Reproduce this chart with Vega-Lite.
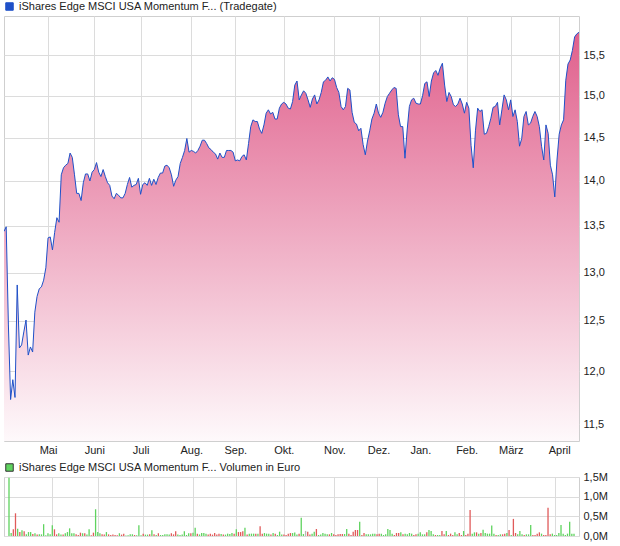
{
 "$schema": "https://vega.github.io/schema/vega-lite/v6.json",
 "padding": {"left": 3, "top": 0, "right": 0, "bottom": 0},
 "bounds": "flush",
 "spacing": 36,
 "background": "white",
 "config": {
  "view": {"stroke": "#cfcfcf", "strokeWidth": 1},
  "font": "Liberation Sans",
  "axis": {"gridColor": "#dcdcdc", "gridWidth": 1, "domain": false, "ticks": false, "labelFont": "Liberation Sans", "labelColor": "#222222", "labelFontSize": 11, "title": null},
  "legend": {"labelFont": "Liberation Sans", "labelFontSize": 11, "labelColor": "#222222", "labelLimit": 0, "padding": 0, "offset": 0}
 },
 "datasets": {"d": [
{"i":0,"p":13.44,"v":1480000,"d":"up"},{"i":1,"p":13.49,"v":75000,"d":"up"},{"i":2,"p":12.46,"v":170000,"d":"down"},{"i":3,"p":11.73,"v":577000,"d":"down"},{"i":4,"p":11.92,"v":187000,"d":"up"},{"i":5,"p":11.75,"v":100000,"d":"down"},{"i":6,"p":12.87,"v":145000,"d":"up"},{"i":7,"p":12.23,"v":120000,"d":"down"},{"i":8,"p":12.26,"v":42000,"d":"up"},{"i":9,"p":12.39,"v":100000,"d":"up"},
{"i":10,"p":12.51,"v":100000,"d":"up"},{"i":11,"p":12.16,"v":50000,"d":"down"},{"i":12,"p":12.24,"v":70000,"d":"up"},{"i":13,"p":12.19,"v":35000,"d":"down"},{"i":14,"p":12.59,"v":42000,"d":"up"},{"i":15,"p":12.75,"v":42000,"d":"up"},{"i":16,"p":12.83,"v":300000,"d":"up"},{"i":17,"p":12.85,"v":17000,"d":"up"},{"i":18,"p":12.92,"v":70000,"d":"up"},{"i":19,"p":13.05,"v":42000,"d":"up"},
{"i":20,"p":13.37,"v":272000,"d":"up"},{"i":21,"p":13.38,"v":170000,"d":"down"},{"i":22,"p":13.24,"v":42000,"d":"down"},{"i":23,"p":13.43,"v":70000,"d":"up"},{"i":24,"p":13.59,"v":35000,"d":"up"},{"i":25,"p":13.54,"v":35000,"d":"down"},{"i":26,"p":14.07,"v":70000,"d":"up"},{"i":27,"p":14.15,"v":100000,"d":"up"},{"i":28,"p":14.18,"v":195000,"d":"up"},{"i":29,"p":14.20,"v":70000,"d":"up"},
{"i":30,"p":14.32,"v":70000,"d":"up"},{"i":31,"p":14.27,"v":42000,"d":"down"},{"i":32,"p":14.07,"v":25000,"d":"down"},{"i":33,"p":13.86,"v":85000,"d":"down"},{"i":34,"p":13.86,"v":70000,"d":"up"},{"i":35,"p":13.78,"v":70000,"d":"down"},{"i":36,"p":13.98,"v":35000,"d":"up"},{"i":37,"p":14.08,"v":170000,"d":"up"},{"i":38,"p":14.08,"v":17000,"d":"down"},{"i":39,"p":14.00,"v":85000,"d":"down"},
{"i":40,"p":14.10,"v":680000,"d":"up"},{"i":41,"p":14.13,"v":100000,"d":"up"},{"i":42,"p":14.21,"v":70000,"d":"up"},{"i":43,"p":14.10,"v":42000,"d":"down"},{"i":44,"p":14.05,"v":35000,"d":"down"},{"i":45,"p":14.13,"v":100000,"d":"up"},{"i":46,"p":14.05,"v":42000,"d":"down"},{"i":47,"p":13.98,"v":25000,"d":"down"},{"i":48,"p":13.95,"v":35000,"d":"down"},{"i":49,"p":13.83,"v":25000,"d":"down"},
{"i":50,"p":13.80,"v":17000,"d":"down"},{"i":51,"p":13.86,"v":70000,"d":"up"},{"i":52,"p":13.84,"v":35000,"d":"down"},{"i":53,"p":13.81,"v":60000,"d":"down"},{"i":54,"p":13.81,"v":10000,"d":"up"},{"i":55,"p":13.86,"v":17000,"d":"up"},{"i":56,"p":13.96,"v":42000,"d":"up"},{"i":57,"p":14.04,"v":42000,"d":"up"},{"i":58,"p":13.93,"v":25000,"d":"down"},{"i":59,"p":13.95,"v":17000,"d":"up"},
{"i":60,"p":13.96,"v":272000,"d":"up"},{"i":61,"p":14.03,"v":17000,"d":"up"},{"i":62,"p":13.85,"v":60000,"d":"down"},{"i":63,"p":13.96,"v":35000,"d":"up"},{"i":64,"p":13.98,"v":35000,"d":"up"},{"i":65,"p":13.95,"v":42000,"d":"down"},{"i":66,"p":14.03,"v":145000,"d":"up"},{"i":67,"p":13.95,"v":42000,"d":"down"},{"i":68,"p":14.02,"v":25000,"d":"up"},{"i":69,"p":13.96,"v":70000,"d":"down"},
{"i":70,"p":14.04,"v":25000,"d":"up"},{"i":71,"p":14.09,"v":25000,"d":"up"},{"i":72,"p":14.09,"v":42000,"d":"up"},{"i":73,"p":14.17,"v":42000,"d":"up"},{"i":74,"p":14.18,"v":35000,"d":"up"},{"i":75,"p":14.15,"v":70000,"d":"down"},{"i":76,"p":14.07,"v":42000,"d":"down"},{"i":77,"p":13.94,"v":120000,"d":"down"},{"i":78,"p":14.01,"v":35000,"d":"up"},{"i":79,"p":14.05,"v":25000,"d":"up"},
{"i":80,"p":14.20,"v":35000,"d":"up"},{"i":81,"p":14.27,"v":120000,"d":"up"},{"i":82,"p":14.35,"v":25000,"d":"up"},{"i":83,"p":14.49,"v":70000,"d":"up"},{"i":84,"p":14.33,"v":70000,"d":"down"},{"i":85,"p":14.35,"v":85000,"d":"up"},{"i":86,"p":14.34,"v":210000,"d":"up"},{"i":87,"p":14.32,"v":60000,"d":"down"},{"i":88,"p":14.35,"v":40000,"d":"up"},{"i":89,"p":14.40,"v":75000,"d":"up"},
{"i":90,"p":14.47,"v":75000,"d":"up"},{"i":91,"p":14.47,"v":60000,"d":"up"},{"i":92,"p":14.43,"v":40000,"d":"down"},{"i":93,"p":14.38,"v":60000,"d":"down"},{"i":94,"p":14.36,"v":35000,"d":"down"},{"i":95,"p":14.33,"v":75000,"d":"down"},{"i":96,"p":14.31,"v":40000,"d":"down"},{"i":97,"p":14.25,"v":60000,"d":"down"},{"i":98,"p":14.32,"v":50000,"d":"up"},{"i":99,"p":14.27,"v":40000,"d":"down"},
{"i":100,"p":14.27,"v":35000,"d":"up"},{"i":101,"p":14.35,"v":60000,"d":"up"},{"i":102,"p":14.35,"v":50000,"d":"up"},{"i":103,"p":14.35,"v":75000,"d":"up"},{"i":104,"p":14.33,"v":60000,"d":"down"},{"i":105,"p":14.23,"v":170000,"d":"up"},{"i":106,"p":14.24,"v":100000,"d":"down"},{"i":107,"p":14.23,"v":100000,"d":"down"},{"i":108,"p":14.28,"v":120000,"d":"down"},{"i":109,"p":14.30,"v":210000,"d":"up"},
{"i":110,"p":14.24,"v":40000,"d":"down"},{"i":111,"p":14.43,"v":60000,"d":"up"},{"i":112,"p":14.63,"v":60000,"d":"up"},{"i":113,"p":14.71,"v":60000,"d":"up"},{"i":114,"p":14.69,"v":60000,"d":"down"},{"i":115,"p":14.69,"v":60000,"d":"up"},{"i":116,"p":14.60,"v":245000,"d":"down"},{"i":117,"p":14.55,"v":60000,"d":"down"},{"i":118,"p":14.65,"v":75000,"d":"up"},{"i":119,"p":14.79,"v":60000,"d":"up"},
{"i":120,"p":14.83,"v":60000,"d":"up"},{"i":121,"p":14.78,"v":40000,"d":"down"},{"i":122,"p":14.80,"v":75000,"d":"up"},{"i":123,"p":14.72,"v":60000,"d":"down"},{"i":124,"p":14.72,"v":25000,"d":"up"},{"i":125,"p":14.85,"v":110000,"d":"up"},{"i":126,"p":14.90,"v":40000,"d":"up"},{"i":127,"p":14.92,"v":40000,"d":"down"},{"i":128,"p":14.90,"v":25000,"d":"down"},{"i":129,"p":14.85,"v":60000,"d":"down"},
{"i":130,"p":14.84,"v":75000,"d":"down"},{"i":131,"p":14.93,"v":75000,"d":"up"},{"i":132,"p":15.13,"v":90000,"d":"up"},{"i":133,"p":15.18,"v":40000,"d":"up"},{"i":134,"p":14.95,"v":60000,"d":"down"},{"i":135,"p":15.01,"v":466000,"d":"up"},{"i":136,"p":15.06,"v":50000,"d":"up"},{"i":137,"p":15.03,"v":130000,"d":"flat"},{"i":138,"p":14.95,"v":110000,"d":"down"},{"i":139,"p":14.86,"v":40000,"d":"down"},
{"i":140,"p":14.96,"v":60000,"d":"up"},{"i":141,"p":15.01,"v":110000,"d":"up"},{"i":142,"p":14.90,"v":178000,"d":"down"},{"i":143,"p":14.95,"v":25000,"d":"up"},{"i":144,"p":15.04,"v":40000,"d":"up"},{"i":145,"p":15.17,"v":76000,"d":"up"},{"i":146,"p":15.19,"v":60000,"d":"up"},{"i":147,"p":15.23,"v":42000,"d":"up"},{"i":148,"p":15.18,"v":42000,"d":"down"},{"i":149,"p":15.22,"v":76000,"d":"up"},
{"i":150,"p":15.20,"v":42000,"d":"down"},{"i":151,"p":15.10,"v":25000,"d":"down"},{"i":152,"p":15.04,"v":42000,"d":"down"},{"i":153,"p":14.87,"v":50000,"d":"down"},{"i":154,"p":14.83,"v":50000,"d":"down"},{"i":155,"p":14.87,"v":50000,"d":"up"},{"i":156,"p":15.09,"v":178000,"d":"up"},{"i":157,"p":15.07,"v":60000,"d":"down"},{"i":158,"p":14.80,"v":25000,"d":"down"},{"i":159,"p":14.68,"v":110000,"d":"down"},
{"i":160,"p":14.66,"v":152000,"d":"down"},{"i":161,"p":14.58,"v":152000,"d":"down"},{"i":162,"p":14.61,"v":365000,"d":"up"},{"i":163,"p":14.42,"v":25000,"d":"down"},{"i":164,"p":14.30,"v":76000,"d":"down"},{"i":165,"p":14.46,"v":42000,"d":"up"},{"i":166,"p":14.58,"v":42000,"d":"up"},{"i":167,"p":14.72,"v":42000,"d":"up"},{"i":168,"p":14.79,"v":60000,"d":"up"},{"i":169,"p":14.90,"v":60000,"d":"up"},
{"i":170,"p":14.79,"v":42000,"d":"down"},{"i":171,"p":14.74,"v":60000,"d":"down"},{"i":172,"p":14.80,"v":60000,"d":"up"},{"i":173,"p":14.91,"v":25000,"d":"up"},{"i":174,"p":14.99,"v":42000,"d":"up"},{"i":175,"p":15.03,"v":178000,"d":"up"},{"i":176,"p":15.07,"v":152000,"d":"up"},{"i":177,"p":15.10,"v":60000,"d":"up"},{"i":178,"p":15.09,"v":25000,"d":"down"},{"i":179,"p":14.77,"v":76000,"d":"down"},
{"i":180,"p":14.63,"v":76000,"d":"down"},{"i":181,"p":14.63,"v":93000,"d":"up"},{"i":182,"p":14.26,"v":42000,"d":"down"},{"i":183,"p":14.59,"v":60000,"d":"up"},{"i":184,"p":14.87,"v":42000,"d":"up"},{"i":185,"p":14.95,"v":76000,"d":"up"},{"i":186,"p":14.97,"v":60000,"d":"up"},{"i":187,"p":14.91,"v":25000,"d":"down"},{"i":188,"p":14.90,"v":42000,"d":"down"},{"i":189,"p":14.90,"v":60000,"d":"up"},
{"i":190,"p":15.00,"v":93000,"d":"up"},{"i":191,"p":15.15,"v":42000,"d":"up"},{"i":192,"p":15.17,"v":42000,"d":"up"},{"i":193,"p":14.99,"v":93000,"d":"down"},{"i":194,"p":15.18,"v":152000,"d":"up"},{"i":195,"p":15.28,"v":127000,"d":"up"},{"i":196,"p":15.31,"v":42000,"d":"up"},{"i":197,"p":15.25,"v":25000,"d":"down"},{"i":198,"p":15.34,"v":25000,"d":"up"},{"i":199,"p":15.40,"v":25000,"d":"up"},
{"i":200,"p":15.13,"v":127000,"d":"down"},{"i":201,"p":14.93,"v":42000,"d":"down"},{"i":202,"p":15.04,"v":127000,"d":"up"},{"i":203,"p":14.99,"v":25000,"d":"down"},{"i":204,"p":14.89,"v":60000,"d":"down"},{"i":205,"p":14.87,"v":25000,"d":"down"},{"i":206,"p":14.90,"v":93000,"d":"up"},{"i":207,"p":14.97,"v":42000,"d":"up"},{"i":208,"p":14.90,"v":76000,"d":"down"},{"i":209,"p":14.79,"v":25000,"d":"down"},
{"i":210,"p":14.92,"v":127000,"d":"up"},{"i":211,"p":14.85,"v":25000,"d":"down"},{"i":212,"p":14.41,"v":60000,"d":"down"},{"i":213,"p":14.15,"v":660000,"d":"down"},{"i":214,"p":14.58,"v":60000,"d":"up"},{"i":215,"p":14.85,"v":93000,"d":"up"},{"i":216,"p":14.81,"v":93000,"d":"down"},{"i":217,"p":14.83,"v":60000,"d":"up"},{"i":218,"p":14.54,"v":76000,"d":"down"},{"i":219,"p":14.55,"v":160000,"d":"up"},
{"i":220,"p":14.63,"v":76000,"d":"up"},{"i":221,"p":14.73,"v":60000,"d":"up"},{"i":222,"p":14.86,"v":60000,"d":"up"},{"i":223,"p":14.87,"v":265000,"d":"up"},{"i":224,"p":14.92,"v":60000,"d":"up"},{"i":225,"p":14.65,"v":25000,"d":"down"},{"i":226,"p":14.83,"v":25000,"d":"up"},{"i":227,"p":15.01,"v":42000,"d":"up"},{"i":228,"p":14.95,"v":42000,"d":"down"},{"i":229,"p":14.83,"v":60000,"d":"down"},
{"i":230,"p":14.95,"v":76000,"d":"up"},{"i":231,"p":14.75,"v":152000,"d":"down"},{"i":232,"p":14.83,"v":25000,"d":"up"},{"i":233,"p":14.69,"v":435000,"d":"down"},{"i":234,"p":14.40,"v":76000,"d":"down"},{"i":235,"p":14.49,"v":42000,"d":"up"},{"i":236,"p":14.75,"v":127000,"d":"up"},{"i":237,"p":14.81,"v":42000,"d":"up"},{"i":238,"p":14.65,"v":25000,"d":"down"},{"i":239,"p":14.67,"v":42000,"d":"up"},
{"i":240,"p":14.75,"v":42000,"d":"up"},{"i":241,"p":14.81,"v":280000,"d":"up"},{"i":242,"p":14.75,"v":25000,"d":"down"},{"i":243,"p":14.63,"v":25000,"d":"down"},{"i":244,"p":14.40,"v":60000,"d":"down"},{"i":245,"p":14.24,"v":93000,"d":"down"},{"i":246,"p":14.65,"v":60000,"d":"up"},{"i":247,"p":14.55,"v":25000,"d":"down"},{"i":248,"p":14.18,"v":25000,"d":"down"},{"i":249,"p":14.07,"v":720000,"d":"down"},
{"i":250,"p":13.82,"v":42000,"d":"down"},{"i":251,"p":14.24,"v":60000,"d":"up"},{"i":252,"p":14.54,"v":25000,"d":"up"},{"i":253,"p":14.65,"v":25000,"d":"up"},{"i":254,"p":14.71,"v":76000,"d":"up"},{"i":255,"p":15.19,"v":280000,"d":"up"},{"i":256,"p":15.39,"v":60000,"d":"up"},{"i":257,"p":15.44,"v":25000,"d":"up"},{"i":258,"p":15.56,"v":60000,"d":"up"},{"i":259,"p":15.73,"v":365000,"d":"up"},
{"i":260,"p":15.77,"v":60000,"d":"up"},{"i":261,"p":15.79,"v":60000,"d":"up"}
 ]},
 "vconcat": [
  {
   "width": 575,
   "height": 425,
   "data": {"name": "d"},
   "encoding": {
    "x": {"field": "i", "type": "quantitative", "scale": {"domain": [0, 261], "nice": false, "zero": false},
      "axis": {"orient": "bottom", "values": [20, 41, 62, 85, 105, 127, 150, 170, 189, 210, 230, 252], "labelExpr": "['Mai','Juni','Juli','Aug.','Sep.','Okt.','Nov.','Dez.','Jan.','Feb.','März','April'][indexof([20,41,62,85,105,127,150,170,189,210,230,252], datum.value)]", "grid": true, "labelPadding": 3, "labelFontSize": 11, "labelOverlap": false, "labelFlush": false}},
    "y": {"field": "p", "type": "quantitative", "scale": {"type": "log", "domain": [11.343, 16.0], "nice": false, "zero": false},
      "axis": {"orient": "right", "values": [11.5, 12, 12.5, 13, 13.5, 14, 14.5, 15, 15.5], "labelExpr": "replace(format(datum.value, '.1f'), '.', ',')", "grid": true, "labelPadding": 4}}
   },
   "layer": [
    {"mark": {"type": "area", "clip": true, "color": {"gradient": "linear", "x1": 0, "y1": 0, "x2": 0, "y2": 1, "stops": [{"offset": 0, "color": "#e0608c"}, {"offset": 1, "color": "#fef9fb"}]}},
     "encoding": {"y2": {"datum": 11.343}}},
    {"mark": {"type": "line", "clip": true, "strokeWidth": 1},
     "encoding": {"color": {"datum": "iShares Edge MSCI USA Momentum F... (Tradegate)", "type": "nominal", "scale": {"range": ["#1f50c8"]},
       "legend": {"orient": "none", "legendX": 0, "legendY": -15, "title": null, "symbolType": "square", "symbolSize": 56, "symbolStrokeColor": "#333333", "symbolStrokeWidth": 1, "symbolFillColor": "#1f50c8", "labelOffset": 4,
         "encode": {"symbols": {"update": {"fill": {"value": "#1f50c8"}, "stroke": {"value": "#333333"}, "strokeWidth": {"value": 1}, "opacity": {"value": 1}}}}}}}}
   ]
  },
  {
   "width": 575,
   "height": 59,
   "data": {"name": "d"},
   "mark": {"type": "bar", "width": 1.3, "clip": true},
   "encoding": {
    "x": {"field": "i", "type": "quantitative", "scale": {"domain": [0, 261], "nice": false, "zero": false},
      "axis": {"values": [20, 41, 62, 85, 105, 127, 150, 170, 189, 210, 230, 252], "labels": false, "grid": true}},
    "y": {"field": "v", "type": "quantitative", "scale": {"domain": [0, 1500000], "nice": false},
      "axis": {"orient": "right", "values": [0, 500000, 1000000, 1500000], "labelExpr": "replace(format(datum.value / 1000000, '.1f'), '.', ',') + 'M'", "grid": true, "labelPadding": 4}},
    "color": {"field": "d", "type": "nominal", "scale": {"domain": ["up", "down", "flat"], "range": ["#5fd35f", "#e05a5a", "#b8b8b8"]},
      "legend": {"orient": "none", "legendX": 0, "legendY": -15, "title": null, "values": ["up"], "labelExpr": "'iShares Edge MSCI USA Momentum F... Volumen in Euro'", "symbolType": "square", "symbolSize": 56, "symbolStrokeColor": "#333333", "symbolStrokeWidth": 1, "labelOffset": 4,
        "encode": {"symbols": {"update": {"stroke": {"value": "#333333"}, "strokeWidth": {"value": 1}}}}}}
   }
  }
 ],
 "resolve": {"scale": {"color": "independent", "y": "independent"}, "legend": {"color": "independent"}}
}
